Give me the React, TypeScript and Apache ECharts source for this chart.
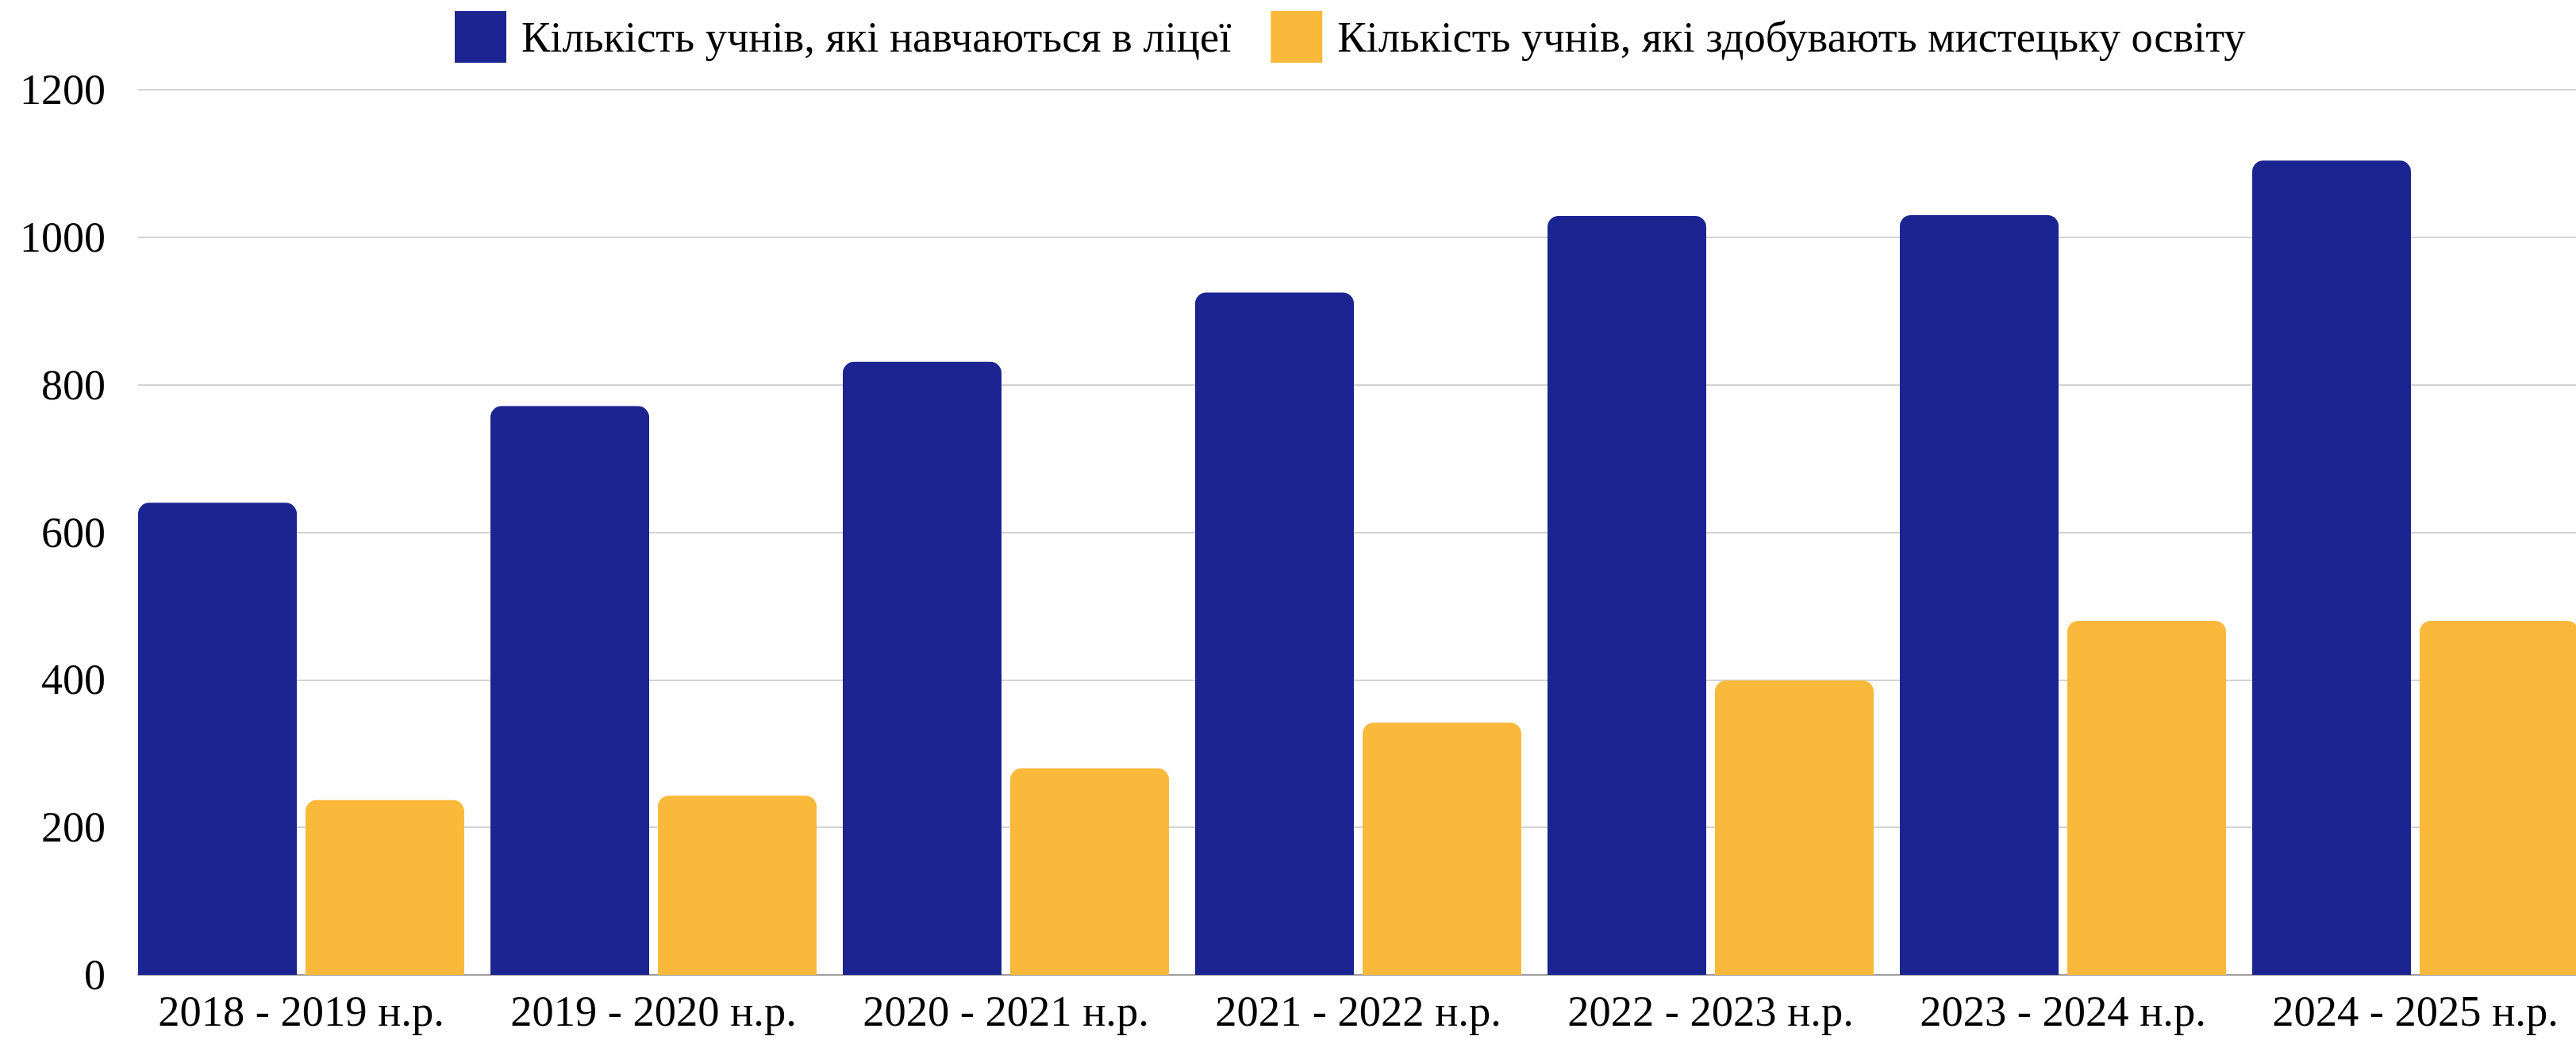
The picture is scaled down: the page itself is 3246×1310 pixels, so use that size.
import React, { useEffect, useRef } from "react";
import * as echarts from "echarts";

const categories = [
  "2018 - 2019 н.р.",
  "2019 - 2020 н.р.",
  "2020 - 2021 н.р.",
  "2021 - 2022 н.р.",
  "2022 - 2023 н.р.",
  "2023 - 2024 н.р.",
  "2024 - 2025 н.р.",
];
const seriesNames = [
  "Кількість учнів, які навчаються в ліцеї",
  "Кількість учнів, які здобувають мистецьку освіту",
];
const lyceumStudents = [640, 771, 831, 925, 1029, 1030, 1104];
const artStudents = [237, 243, 280, 342, 399, 480, 480];
const yMin = 0;
const yMax = 1200;
const yInterval = 200;

const BLUE = "#1c2491";
const YELLOW = "#fab93a";
const FONT = "Liberation Serif";

export default function App() {
  const ref = useRef<HTMLDivElement>(null);
  useEffect(() => {
    if (!ref.current) return;
    const chart = echarts.init(ref.current, undefined, { renderer: "svg" });
    chart.setOption({
      animation: false,
      backgroundColor: "#ffffff",
      textStyle: { fontFamily: FONT },
      legend: {
        left: 568,
        top: 9,
        itemWidth: 65,
        itemHeight: 65,
        itemGap: 50,
        icon: "rect",
        data: seriesNames,
        textStyle: {
          fontFamily: FONT,
          fontSize: 54.5,
          color: "#000",
          padding: [0, 0, 0, 14],
        },
      },
      grid: [
        { left: 174, right: 0, top: 113, bottom: 82, outerBoundsMode: "none" },
        { left: 157.5, width: 3108, top: 113, bottom: 82, outerBoundsMode: "none" },
      ],
      xAxis: [
        {
          gridIndex: 0,
          type: "value",
          min: 0,
          max: 1,
          axisLine: { show: true, lineStyle: { color: "#9e9e9e", width: 2 } },
          axisTick: { show: false },
          axisLabel: { show: false },
          splitLine: { show: false },
        },
        {
          gridIndex: 1,
          type: "category",
          data: categories,
          axisLine: { show: false },
          axisTick: { show: false },
          axisLabel: {
            fontFamily: FONT,
            fontSize: 54.5,
            color: "#000",
            margin: 18,
            interval: 0,
          },
        },
      ],
      yAxis: [
        {
          gridIndex: 0,
          type: "value",
          min: yMin,
          max: yMax,
          interval: yInterval,
          axisLine: { show: false },
          axisTick: { show: false },
          axisLabel: {
            fontFamily: FONT,
            fontSize: 54,
            color: "#000",
            margin: 41,
            formatter: (v: number) => String(v),
          },
          splitLine: { lineStyle: { color: "#c4c4c4", width: 1.5 } },
        },
        { gridIndex: 1, type: "value", min: yMin, max: yMax, show: false },
      ],
      series: [
        {
          name: seriesNames[0],
          type: "bar",
          xAxisIndex: 1,
          yAxisIndex: 1,
          data: lyceumStudents,
          barWidth: 200,
          barGap: "5.5%",
          itemStyle: { color: BLUE, borderRadius: [14, 14, 0, 0] },
        },
        {
          name: seriesNames[1],
          type: "bar",
          xAxisIndex: 1,
          yAxisIndex: 1,
          data: artStudents,
          barWidth: 200,
          barGap: "5.5%",
          itemStyle: { color: YELLOW, borderRadius: [14, 14, 0, 0] },
        },
      ],
    });
    return () => chart.dispose();
  }, []);
  return (
    <div
      ref={ref}
      style={{ position: "fixed", left: 0, top: 0, width: 3246, height: 1310 }}
    />
  );
}
